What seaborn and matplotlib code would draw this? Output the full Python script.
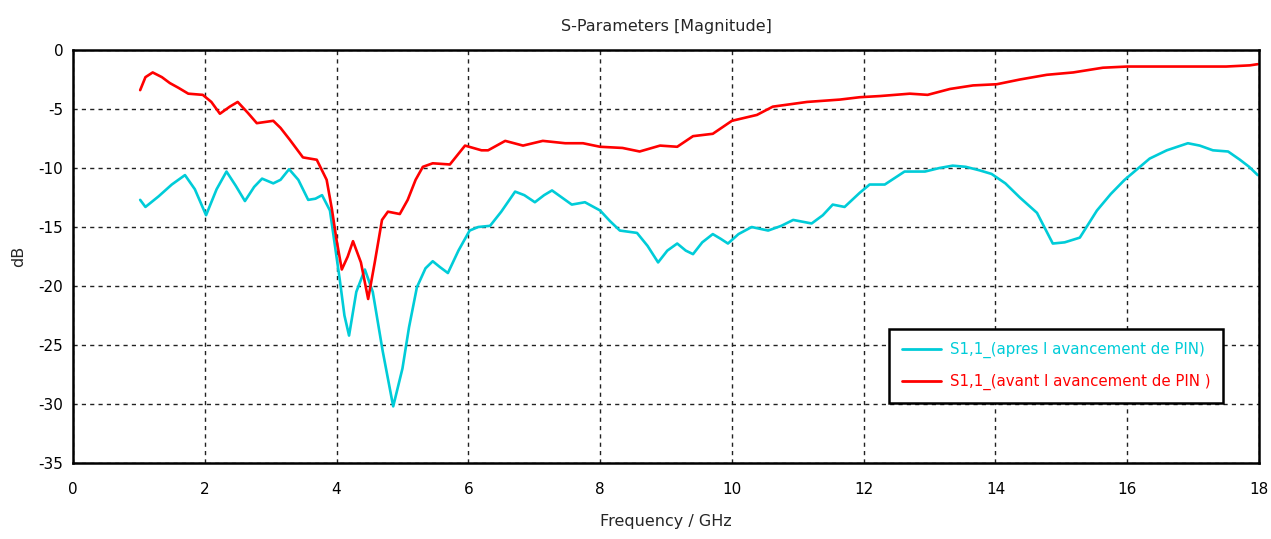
import numpy as np
import pandas as pd
import matplotlib
matplotlib.use("Agg")
import matplotlib.pyplot as plt
import seaborn as sns

# Cyan series: S1,1 after
freq_apres = [1.02, 1.1, 1.3, 1.5, 1.7, 1.85, 2.02, 2.18, 2.33, 2.47, 2.61, 2.75, 2.87, 3.04, 3.15, 3.28, 3.42, 3.57, 3.68, 3.78, 3.9,
              4.05, 4.12, 4.19, 4.3, 4.43, 4.55, 4.7, 4.86, 5.0, 5.1, 5.22, 5.35, 5.46, 5.57, 5.69, 5.85, 6.02, 6.15, 6.33, 6.5,
              6.71, 6.85, 7.01, 7.15, 7.27, 7.42, 7.57, 7.77, 8.0, 8.15, 8.3, 8.56, 8.72, 8.88, 9.02, 9.17, 9.3, 9.41, 9.55,
              9.71, 9.83, 9.94, 10.1, 10.3, 10.55, 10.75, 10.93, 11.21, 11.38, 11.53, 11.71, 11.94, 12.09, 12.32, 12.62, 12.93,
              13.15, 13.35, 13.55, 13.76, 13.94, 14.15, 14.37, 14.63, 14.87, 15.05, 15.28, 15.54, 15.75, 15.96, 16.34, 16.6,
              16.92, 17.1, 17.3, 17.53, 17.71, 17.85, 17.98]
s11_apres = [-12.7, -13.3, -12.4, -11.4, -10.6, -11.8, -14.0, -11.8, -10.3, -11.5, -12.8, -11.6, -10.9, -11.3, -11.0, -10.1, -11.0, -12.7, -12.6, -12.3, -13.6,
             -19.5, -22.5, -24.2, -20.5, -18.6, -20.5, -25.5, -30.2, -27.0, -23.5, -20.1, -18.5, -17.9, -18.4, -18.9, -17.0, -15.3, -15.0, -14.9, -13.7,
             -12.0, -12.3, -12.9, -12.3, -11.9, -12.5, -13.1, -12.9, -13.6, -14.5, -15.3, -15.5, -16.6, -18.0, -17.0, -16.4, -17.0, -17.3, -16.3,
             -15.6, -16.0, -16.4, -15.6, -15.0, -15.3, -14.9, -14.4, -14.7, -14.0, -13.1, -13.3, -12.1, -11.4, -11.4, -10.3, -10.3,
             -10.0, -9.8, -9.9, -10.2, -10.5, -11.3, -12.5, -13.8, -16.4, -16.3, -15.9, -13.6, -12.2, -11.0, -9.2, -8.5,
             -7.9, -8.1, -8.5, -8.6, -9.3, -9.9, -10.6]

# Red series: S1,1 before
freq_avant = [1.02, 1.1, 1.21, 1.35, 1.47, 1.6, 1.75, 1.97, 2.1, 2.23, 2.38, 2.5, 2.65, 2.79, 3.04, 3.15, 3.29, 3.49, 3.7, 3.85, 3.93, 4.0,
              4.08, 4.17, 4.25, 4.37, 4.48, 4.58, 4.69, 4.78, 4.96, 5.08, 5.2, 5.31, 5.46, 5.72, 5.95, 6.2, 6.3, 6.56, 6.83,
              7.13, 7.47, 7.74, 8.0, 8.34, 8.6, 8.91, 9.17, 9.41, 9.71, 10.0, 10.38, 10.62, 11.14, 11.64, 11.94, 12.25,
              12.7, 12.97, 13.31, 13.66, 14.02, 14.37, 14.78, 15.18, 15.63, 16.0, 16.5, 17.0, 17.5, 17.86, 17.98]
s11_avant = [-3.4, -2.3, -1.9, -2.3, -2.8, -3.2, -3.7, -3.8, -4.4, -5.4, -4.8, -4.4, -5.3, -6.2, -6.0, -6.6, -7.6, -9.1, -9.3, -11.0, -13.5, -16.1,
             -18.6, -17.5, -16.2, -18.0, -21.1, -18.0, -14.4, -13.7, -13.9, -12.7, -11.0, -9.9, -9.6, -9.7, -8.1, -8.5, -8.5, -7.7, -8.1,
             -7.7, -7.9, -7.9, -8.2, -8.3, -8.6, -8.1, -8.2, -7.3, -7.1, -6.0, -5.5, -4.8, -4.4, -4.2, -4.0, -3.9,
             -3.7, -3.8, -3.3, -3.0, -2.9, -2.5, -2.1, -1.9, -1.5, -1.4, -1.4, -1.4, -1.4, -1.3, -1.2]

labels = ["S1,1_(apres l avancement de PIN)", "S1,1_(avant l avancement de PIN )"]
colors = ["#00CCD8", "#FF0000"]
xticks = list(range(0, 19, 2))
yticks = list(range(-35, 1, 5))

df = pd.concat([
    pd.DataFrame({"f": freq_apres, "s": s11_apres, "curve": labels[0]}),
    pd.DataFrame({"f": freq_avant, "s": s11_avant, "curve": labels[1]}),
])

sns.set_style("white")
plt.rcParams['font.family'] = ['DejaVu Sans']
plt.rcParams['axes.unicode_minus'] = False

fig = plt.figure(figsize=(12.71, 5.39), dpi=100)
ax = fig.add_axes([0.0574, 0.141, 0.9332, 0.7662])

sns.lineplot(data=df, x="f", y="s", hue="curve", palette=dict(zip(labels, colors)),
             sort=False, estimator=None, linewidth=1.9, ax=ax, legend=False)

ax.set_xlim(0, 18)
ax.set_ylim(-35, 0)
ax.set_xticks(xticks)
ax.set_yticks(yticks)
ax.tick_params(axis='both', direction='in', length=4, labelsize=11, colors='black')
ax.tick_params(axis='x', pad=14)
ax.tick_params(axis='y', pad=7)
ax.grid(True, linestyle=(0, (3, 3)), color='#222222', linewidth=1.0)
for sp in ax.spines.values():
    sp.set_color('black')
    sp.set_linewidth(1.8)
ax.set_title("S-Parameters [Magnitude]", fontsize=11.5, pad=14)
ax.set_xlabel("Frequency / GHz", fontsize=11.5, labelpad=12)
ax.set_ylabel("dB", fontsize=11.5, labelpad=9)

handles = [plt.Line2D([], [], color=c, linewidth=2) for c in colors]
leg = ax.legend(handles, labels, loc='lower left', bbox_to_anchor=(0.682, 0.127),
                fontsize=10.8, frameon=True, fancybox=False, edgecolor='black',
                framealpha=1, borderpad=0.85, handlelength=2.6, handletextpad=0.6,
                labelspacing=1.05)
leg.get_frame().set_linewidth(1.8)
for t, c in zip(leg.get_texts(), colors):
    t.set_color(c)

fig.savefig("out.png", dpi=100)
